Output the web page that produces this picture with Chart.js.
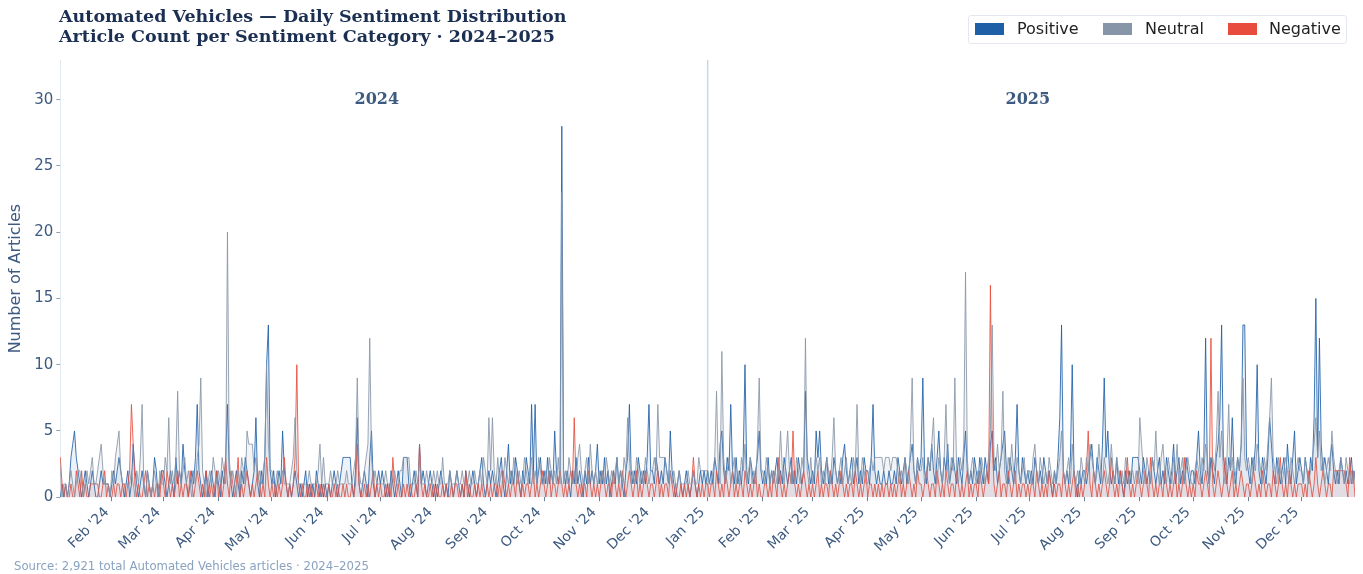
<!DOCTYPE html>
<html>
<head>
<meta charset="utf-8">
<script src="https://cdn.jsdelivr.net/npm/chart.js@4.4.1/dist/chart.umd.min.js"></script>
<style>
  html, body { margin: 0; padding: 0; background: #fff; }
  #wrap { position: relative; width: 1363px; height: 574px; }
  #title { position: absolute; left: 59px; top: 6px; font-family: "DejaVu Serif", serif; font-weight: bold;
           font-size: 17.5px; line-height: 20px; color: #1b2f52; }
  #legend { position: absolute; left: 968px; top: 15px; width: 377px; height: 27px; border: 1px solid #e3e8ef;
            border-radius: 3px; font-family: "DejaVu Sans", sans-serif; font-size: 16px; color: #222; }
  #legend span.sw { position: absolute; top: 7px; width: 29px; height: 12px; }
  #legend span.lb { position: absolute; top: 3px; }
  #source { position: absolute; left: 14px; top: 559px; font-family: "DejaVu Sans", sans-serif; font-size: 11.7px; color: #8aa2c0; }
</style>
</head>
<body>
<div id="wrap">
  <canvas id="chart" width="1363" height="574"></canvas>
  <div id="title">Automated Vehicles — Daily Sentiment Distribution<br>Article Count per Sentiment Category · 2024–2025</div>
  <div id="legend">
    <span class="sw" style="left:6px;background:#1f5fa8"></span><span class="lb" style="left:48px">Positive</span>
    <span class="sw" style="left:134px;background:#8795a8"></span><span class="lb" style="left:176px">Neutral</span>
    <span class="sw" style="left:259px;background:#e74c3c"></span><span class="lb" style="left:300px">Negative</span>
  </div>
  <div id="source">Source: 2,921 total Automated Vehicles articles · 2024–2025</div>
</div>
<script>
// daily counts, one row per month, Jan 2024 -> Dec 2025
const positive = [
  0,1,0,1,0,1,0,1,3,4,5,3,2,1,0,1,2,1,0,1,2,1,0,0,1,2,1,1,1,1,0,
  1,2,1,2,3,2,1,0,1,2,0,1,4,2,1,0,1,2,1,0,2,1,0,1,3,2,0,1,2,
  2,1,0,1,2,1,0,3,1,2,1,4,2,1,0,1,2,1,3,7,2,1,0,1,2,0,1,2,1,0,2,
  1,0,2,1,3,7,2,1,0,1,2,1,0,2,1,3,2,1,0,1,2,6,1,0,2,1,3,10,13,2,
  1,2,0,1,2,1,5,2,1,0,1,0,1,2,1,0,1,0,1,2,0,1,0,1,0,2,1,0,1,0,1,
  0,1,0,1,2,1,0,1,2,3,3,3,3,3,1,0,2,6,1,0,1,2,1,0,3,5,1,0,1,2,
  1,2,1,0,1,0,2,1,0,1,2,1,0,3,3,3,1,0,1,2,1,0,4,1,2,1,0,1,2,1,0,
  1,0,1,2,1,0,1,0,2,1,0,1,2,1,0,1,0,2,1,0,1,2,1,0,1,2,3,1,0,1,2,
  1,2,1,0,1,2,3,1,0,2,4,1,2,1,3,2,1,0,2,1,3,2,1,7,2,7,1,2,3,1,
  2,1,3,1,2,1,5,2,1,2,28,2,1,2,1,0,2,1,3,1,2,1,0,2,1,3,1,2,1,2,4,
  1,2,1,3,1,2,0,1,2,1,3,1,2,1,0,2,3,7,2,1,2,1,3,2,1,2,1,3,7,2,
  2,1,3,2,1,2,1,3,2,1,5,2,1,0,1,2,1,0,1,2,1,0,1,2,1,0,1,2,1,2,1,
  2,1,2,1,3,2,1,4,5,2,1,3,2,7,2,1,3,1,2,1,3,10,2,1,3,2,1,2,3,5,2,
  1,2,1,3,1,2,1,2,3,1,2,1,3,2,1,2,3,1,2,1,3,2,1,2,8,3,2,1,
  2,1,5,3,5,2,1,2,3,1,2,1,3,2,1,2,1,3,4,2,1,2,3,1,2,3,1,2,1,3,2,
  2,1,3,7,2,1,2,1,1,2,1,1,2,1,1,2,1,3,2,1,2,3,1,2,3,4,2,1,3,2,
  3,9,2,1,3,2,4,2,1,3,5,2,1,3,2,4,1,2,3,2,1,3,2,1,3,5,2,1,2,1,3,
  2,1,3,2,1,3,2,1,4,5,2,3,1,2,3,4,5,2,1,3,2,1,3,7,2,1,3,2,1,2,
  1,2,1,3,2,1,2,1,3,2,1,2,1,0,2,1,3,6,13,2,1,2,1,3,10,2,1,0,2,1,2,
  2,1,2,3,4,2,1,3,2,1,4,9,3,5,2,1,2,1,3,1,2,1,0,2,1,2,1,3,3,3,3,
  2,1,3,2,1,2,1,3,2,1,2,3,1,2,1,3,2,1,2,4,1,2,3,1,2,1,3,2,1,2,
  2,1,3,5,2,1,3,12,2,1,3,2,1,3,4,6,13,3,2,1,3,2,6,2,1,3,2,4,13,13,3,
  2,1,3,2,4,10,2,1,3,2,1,3,6,4,2,1,3,2,1,2,3,1,4,2,1,3,5,1,2,3,
  2,1,3,2,1,3,2,6,15,3,12,4,2,3,2,1,3,4,2,1,2,1,3,2,1,2,1,2,3,1,2
];
const neutral = [
  3,4,2,0,1,1,0,1,2,1,0,1,2,2,1,0,1,2,1,2,3,1,1,2,3,4,2,1,1,1,0,
  2,1,3,4,5,2,1,1,1,1,1,2,1,0,2,1,3,7,1,0,2,1,0,1,2,1,0,2,1,
  1,3,2,6,1,2,1,3,8,2,1,2,3,1,2,1,0,2,1,3,4,9,2,1,0,1,2,1,3,2,1,
  2,1,3,2,1,20,3,1,2,1,0,2,1,3,2,1,5,4,4,4,2,3,1,2,1,2,3,10,4,2,
  2,1,1,2,1,1,2,1,1,1,1,2,3,6,2,1,1,1,1,1,1,2,1,1,1,1,2,4,1,3,1,
  1,1,2,1,1,1,2,1,1,1,1,2,1,1,1,2,3,9,2,1,1,2,3,4,12,3,1,2,1,1,
  1,1,1,2,1,1,1,1,2,1,1,2,2,3,3,3,3,1,1,1,2,1,3,1,1,1,2,1,1,1,2,
  1,2,1,1,3,1,1,1,2,1,1,1,2,1,1,2,1,1,1,2,1,1,2,1,1,2,1,3,2,1,6,
  2,6,2,1,3,1,2,1,3,2,1,2,1,3,2,1,2,1,1,3,2,1,2,3,1,2,1,3,2,1,
  1,2,1,3,2,1,2,1,3,1,23,1,2,1,3,2,1,2,1,3,4,2,1,2,3,1,4,2,1,2,1,
  2,1,2,1,3,2,1,2,1,2,3,1,2,1,3,2,6,3,1,2,1,3,2,1,2,1,3,2,1,2,
  2,3,2,7,3,3,3,3,2,1,2,1,2,1,1,2,1,1,1,1,2,1,1,2,1,1,3,2,2,2,2,
  2,1,1,2,3,8,2,1,11,3,1,2,3,1,2,3,1,2,1,3,2,4,1,2,3,1,2,1,4,9,2,
  2,1,3,2,1,2,1,2,1,2,5,2,1,3,5,2,1,2,1,3,2,1,3,2,12,2,1,3,
  1,2,3,2,3,1,2,1,3,2,1,3,6,2,1,2,3,1,2,3,1,2,1,3,2,7,2,1,3,2,1,
  1,2,3,2,3,3,3,3,3,2,3,3,3,2,3,3,3,2,1,2,1,3,2,1,4,9,2,1,3,2,
  2,3,1,2,3,2,4,6,2,1,3,2,1,3,7,2,1,3,2,9,2,1,3,2,4,17,3,1,2,3,2,
  1,2,1,3,2,1,2,3,5,13,3,2,4,2,3,8,2,1,3,2,4,2,1,3,2,1,2,3,1,2,
  2,1,3,4,2,1,3,2,1,2,1,3,2,1,2,1,2,3,5,2,1,2,3,1,4,2,1,2,1,3,2,
  1,3,2,4,3,2,1,2,4,2,1,3,2,1,2,4,2,1,3,2,1,2,1,3,2,1,2,2,1,2,1,
  6,4,2,1,3,2,1,3,2,5,2,1,3,4,2,1,3,2,1,3,2,4,1,2,3,1,2,3,2,1,
  1,2,3,2,1,3,2,4,3,1,2,3,2,4,8,3,5,2,1,3,7,2,3,1,2,3,2,4,9,3,2,
  3,2,1,3,2,4,3,2,1,3,2,4,6,9,3,2,1,3,2,1,2,3,2,1,3,2,1,2,3,2,
  2,1,3,2,1,2,3,4,6,3,5,2,3,1,2,3,2,5,3,2,1,2,3,2,1,3,2,1,2,1,2
];
const negative = [
  1,0,3,1,0,1,0,0,1,0,0,2,1,0,2,0,1,0,0,1,1,1,1,1,0,0,1,2,0,1,0,
  0,1,0,1,1,0,1,1,0,1,2,7,4,1,0,1,0,0,1,2,0,1,0,1,0,1,1,0,2,
  1,0,2,1,0,1,0,1,2,0,1,0,1,1,0,2,1,0,1,2,1,0,1,0,2,1,0,1,0,1,2,
  0,1,0,1,3,1,0,2,1,0,1,3,0,1,0,1,2,1,0,1,0,1,2,1,0,1,0,3,1,0,
  1,0,1,0,1,0,1,3,1,0,1,0,1,3,10,1,0,1,0,0,1,0,1,0,0,1,0,1,0,1,0,
  0,1,0,0,1,0,1,0,0,1,0,1,0,0,1,0,1,4,1,0,0,1,0,1,0,1,2,0,1,0,
  1,0,0,1,0,1,0,3,1,0,1,0,0,1,0,1,0,1,0,0,1,0,4,1,0,1,0,0,1,0,1,
  0,1,0,0,1,0,1,0,0,1,0,1,1,0,0,1,0,2,0,1,0,0,1,0,1,0,1,0,0,1,0,
  1,0,1,1,0,1,0,2,1,0,1,0,1,1,0,2,1,0,1,0,1,1,0,1,2,0,1,0,1,2,
  1,0,1,2,0,1,1,0,1,2,1,0,1,0,1,2,1,6,1,0,1,0,1,1,0,2,1,0,1,0,1,
  0,1,2,1,0,1,1,0,2,1,0,1,0,2,1,0,1,2,1,0,1,2,0,1,0,1,2,1,0,1,
  1,0,1,2,0,1,0,1,1,0,2,1,0,1,0,0,1,0,1,0,1,0,1,3,1,0,1,0,1,0,1,
  1,0,1,1,0,2,1,0,1,0,2,1,0,1,2,0,1,0,1,1,0,2,1,0,1,0,1,2,0,1,0,
  0,1,1,0,1,0,2,1,0,3,1,0,1,0,1,2,1,5,1,0,1,0,1,2,1,0,1,0,
  1,0,1,2,0,1,0,1,1,0,2,1,0,1,0,1,2,1,0,1,0,1,1,0,2,1,0,1,0,1,2,
  0,1,1,0,1,0,1,0,1,0,1,1,0,1,0,1,0,1,2,0,1,0,1,2,1,0,1,0,2,1,
  1,0,1,2,1,0,1,1,0,2,1,0,1,0,2,1,0,1,1,0,2,1,0,1,0,1,2,0,1,0,1,
  1,0,2,1,0,1,2,1,16,4,1,0,1,2,0,1,1,0,2,1,0,1,2,0,1,0,1,1,0,1,
  0,1,1,0,2,1,0,1,0,1,0,2,1,0,1,0,1,1,0,2,1,0,1,0,1,2,0,1,0,1,0,
  1,2,5,1,0,2,1,0,1,0,1,2,1,0,1,3,1,0,1,0,2,1,0,1,3,1,0,1,0,1,2,
  1,0,1,2,1,0,3,1,0,1,0,1,1,0,2,1,0,1,0,1,2,0,1,0,1,3,1,0,1,0,
  1,0,2,1,1,0,1,2,1,0,12,1,0,1,2,1,0,1,3,1,0,1,2,0,1,0,1,2,1,0,1,
  1,0,1,2,1,0,1,0,2,1,0,1,1,0,2,1,0,1,3,1,0,1,0,2,1,0,1,0,1,1,
  1,0,1,0,2,1,0,1,3,1,0,1,2,1,0,1,1,0,2,2,2,2,2,2,2,1,0,3,1,2,0
];
const tickMonths = ['2024-02','2024-03','2024-04','2024-05','2024-06','2024-07','2024-08','2024-09','2024-10','2024-11','2024-12',
  '2025-01','2025-02','2025-03','2025-04','2025-05','2025-06','2025-07','2025-08','2025-09','2025-10','2025-11','2025-12'];
const tickLabels = ["Feb '24","Mar '24","Apr '24","May '24","Jun '24","Jul '24","Aug '24","Sep '24","Oct '24","Nov '24","Dec '24",
  "Jan '25","Feb '25","Mar '25","Apr '25","May '25","Jun '25","Jul '25","Aug '25","Sep '25","Oct '25","Nov '25","Dec '25"];
const yearLabels = ['2024', '2025'];

const dayMs = 86400000;
const start = Date.UTC(2024, 0, 1);
const dayOf = s => Math.round((Date.UTC(+s.slice(0, 4), +s.slice(5, 7) - 1, 1) - start) / dayMs);
const tickDays = tickMonths.map(dayOf);
const splitDay = dayOf('2025-01');
const toPoints = arr => arr.map((v, i) => ({ x: i, y: v }));

const yearPlugin = {
  id: 'years',
  beforeDatasetsDraw(chart) {
    const { ctx, chartArea, scales } = chart;
    const x = scales.x.getPixelForValue(splitDay);
    ctx.save();
    ctx.strokeStyle = '#c9d6e6';
    ctx.lineWidth = 1.5;
    ctx.beginPath();
    ctx.moveTo(x, chartArea.top);
    ctx.lineTo(x, chartArea.bottom);
    ctx.stroke();
    ctx.restore();
  },
  afterDatasetsDraw(chart) {
    const { ctx, scales } = chart;
    ctx.save();
    ctx.font = 'bold 16px "DejaVu Serif"';
    ctx.fillStyle = '#3d5a80';
    ctx.textAlign = 'center';
    ctx.textBaseline = 'middle';
    const y = scales.y.getPixelForValue(30);
    ctx.fillText(yearLabels[0], scales.x.getPixelForValue(180), y);
    ctx.fillText(yearLabels[1], scales.x.getPixelForValue(546), y);
    ctx.restore();
  }
};

Chart.defaults.font.family = '"DejaVu Sans", sans-serif';
Chart.defaults.color = '#3d5a80';

new Chart(document.getElementById('chart'), {
  type: 'line',
  data: {
    datasets: [
      { label: 'Neutral', data: toPoints(neutral), borderColor: 'rgba(135,149,168,0.85)',
        backgroundColor: 'rgba(135,149,168,0.10)', fill: 'origin' },
      { label: 'Negative', data: toPoints(negative), borderColor: 'rgba(231,76,60,0.85)',
        backgroundColor: 'rgba(231,76,60,0.07)', fill: 'origin' },
      { label: 'Positive', data: toPoints(positive), borderColor: 'rgba(31,95,168,0.85)',
        backgroundColor: 'rgba(31,95,168,0.08)', fill: 'origin' }
    ]
  },
  options: {
    responsive: false,
    animation: false,
    parsing: false,
    layout: { padding: { top: 60, right: 8, left: 2, bottom: 16 } },
    elements: {
      line: { borderWidth: 1, tension: 0 },
      point: { radius: 0 }
    },
    plugins: {
      legend: { display: false },
      tooltip: { enabled: false }
    },
    scales: {
      x: {
        type: 'linear',
        min: 2,
        max: positive.length - 1,
        afterBuildTicks: scale => { scale.ticks = tickDays.map(v => ({ value: v })); },
        ticks: {
          autoSkip: false,
          maxRotation: 45,
          minRotation: 45,
          labelOffset: -5,
          font: { size: 14 },
          color: '#3d5a80',
          callback: (v, i) => tickLabels[i]
        },
        grid: { display: true, drawOnChartArea: false, tickLength: 4, color: '#6b7f99' },
        border: { display: false }
      },
      y: {
        min: 0,
        max: 33,
        afterBuildTicks: scale => { scale.ticks = scale.ticks.filter(t => t.value % 5 === 0); },
        ticks: { stepSize: 5, font: { size: 15 }, color: '#3d5a80', padding: 3 },
        grid: { display: true, drawOnChartArea: false, tickLength: 4, color: '#8ea0b8' },
        border: { display: true, color: '#e3e9f1' },
        title: { display: true, text: 'Number of Articles', font: { size: 16 }, color: '#3d5a80', padding: { bottom: 6 } }
      }
    }
  },
  plugins: [yearPlugin]
});
</script>
</body>
</html>
